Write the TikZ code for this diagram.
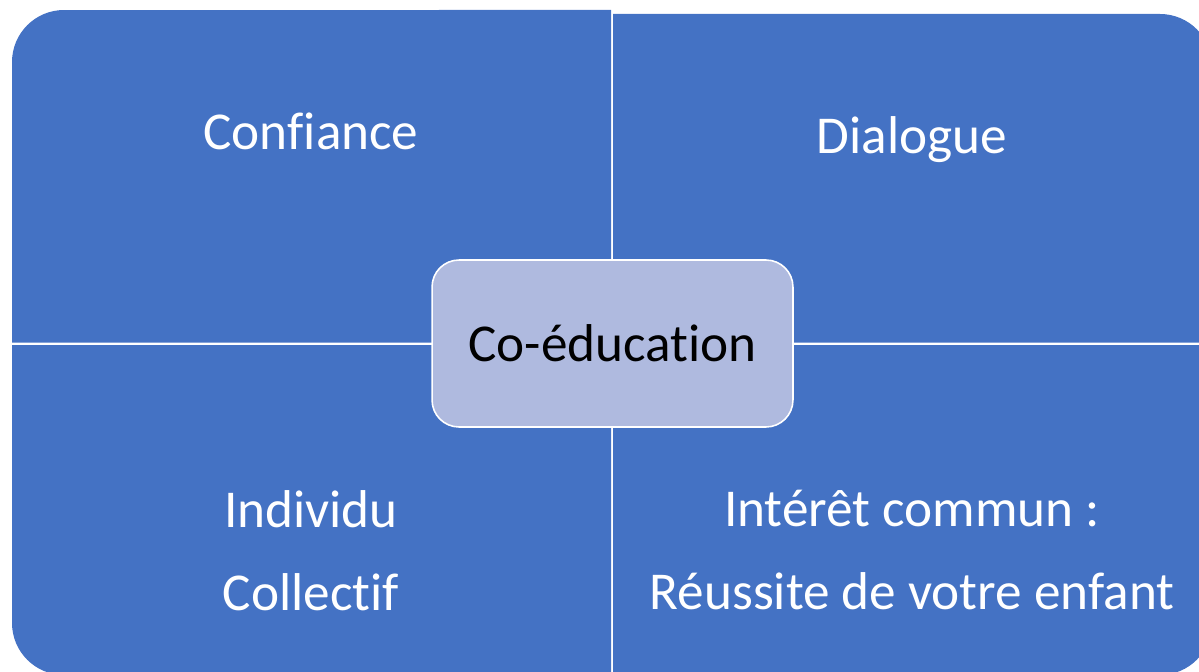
\documentclass[tikz,border=0pt]{standalone}
\usepackage{fontspec}
\setmainfont{Carlito}[Ligatures=NoCommon]
\usetikzlibrary{positioning}
\definecolor{quadblue}{HTML}{4472C4}
\definecolor{centerblue}{HTML}{AFBADF}
\tikzset{
    quad/.style={fill=quadblue},
    quadtext/.style={text=white, font=\fontsize{30.3}{46.9}\selectfont, align=center, inner sep=0pt},
    centerbox/.style={draw=white, line width=0.9pt, fill=centerblue, rounded corners=0.54cm,
        minimum width=7.22cm, minimum height=3.34cm, font=\fontsize{30.3}{36}\selectfont}
}

\begin{document}
\begin{tikzpicture}[x=0.02cm,y=-0.02cm]
        \useasboundingbox (0,0) rectangle (1199,672);
        \fill[quad] (12,62) arc[start angle=180,end angle=90,radius=1.04cm] -- (611,10) -- (611,342.5) -- (12,342.5) -- cycle;
        \fill[quad] (613,14) -- (1160,14) arc[start angle=90,end angle=0,radius=1.04cm] -- (1212,342.5) -- (613,342.5) -- cycle;
        \fill[quad] (12,345) -- (12,623) arc[start angle=180,end angle=270,radius=1.04cm] -- (611,675) -- (611,345) -- cycle;
        \fill[quad] (613,345) -- (1212,345) -- (1212,623) arc[start angle=0,end angle=-90,radius=1.04cm] -- (613,675) -- cycle;
        \node[quadtext, anchor=base] (confiance) at (311,150) {Confiance};
        \node[quadtext, anchor=base] (dialogue) at (912,154) {Dialogue};
        \node[quadtext, anchor=base] (individu) at (311,610) {Individu\\Collectif};
        \node[quadtext, anchor=base] (interet) at (912,609) {Intérêt commun :\\Réussite de votre enfant};
        \node[centerbox] (coedu) at (612.5,343.5) {Co-éducation};
    \end{tikzpicture}
\end{document}
